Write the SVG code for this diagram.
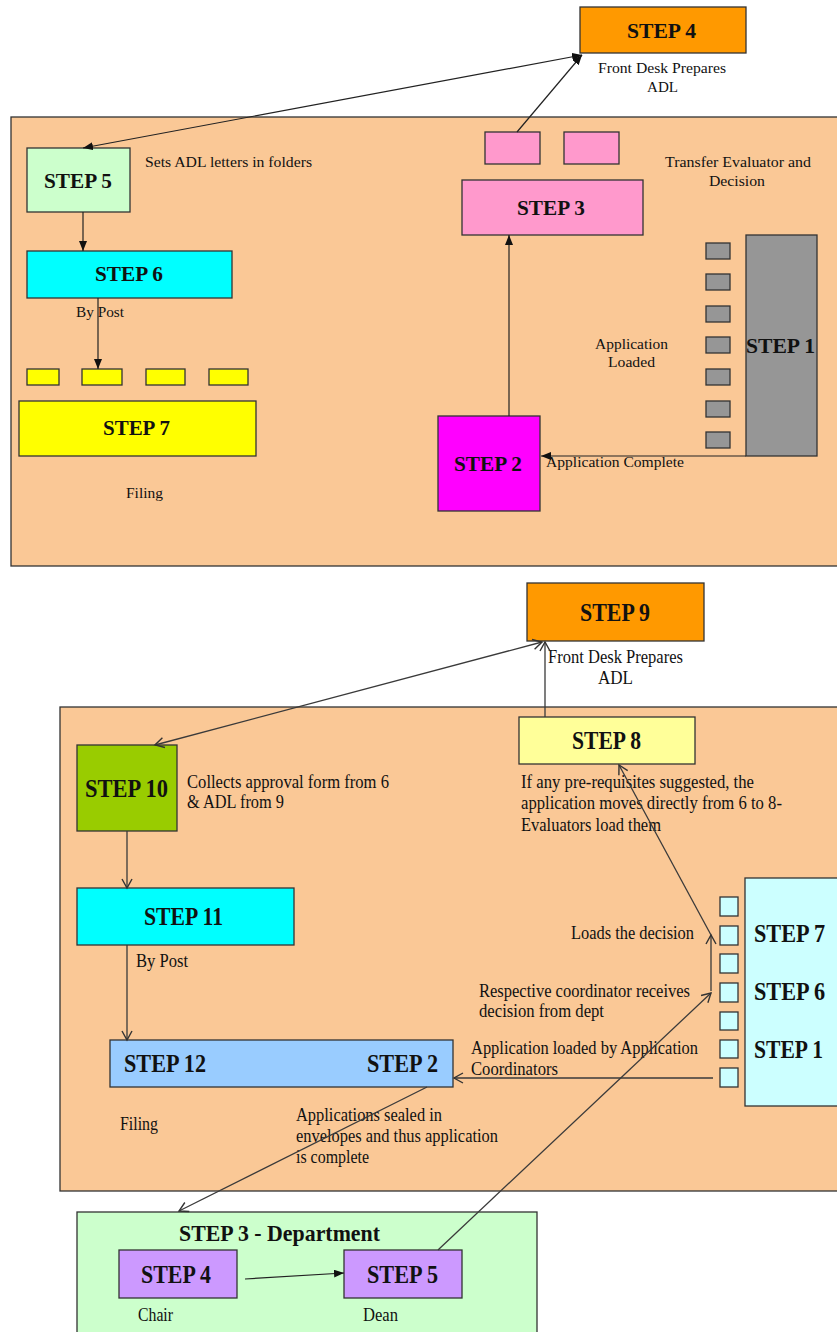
<svg xmlns="http://www.w3.org/2000/svg" width="837" height="1332" viewBox="0 0 837 1332">
<defs>
<style>
.bx{stroke:#333;stroke-width:1.3}
.t{font-family:"Liberation Serif","Times New Roman",serif;fill:#111}
.s{font-size:15.5px}
.b{font-size:21px;font-weight:bold}
.s2{font-size:18px}
.b2{font-size:25px;font-weight:bold}
.ln{stroke:#222;stroke-width:1.2;fill:none}
.ln2{stroke:#3a3a3a;stroke-width:1.3;fill:none}
</style>
<marker id="af" markerUnits="userSpaceOnUse" markerWidth="10" markerHeight="8" refX="10" refY="4" orient="auto-start-reverse"><path d="M0,0 L10,4 L0,8 z" fill="#111"/></marker>
<marker id="ao" markerUnits="userSpaceOnUse" markerWidth="12" markerHeight="12" refX="10" refY="6" orient="auto-start-reverse"><path d="M1,1 L10,6 L1,11" fill="none" stroke="#333" stroke-width="1.4"/></marker>
</defs>
<rect width="837" height="1332" fill="#fff"/>

<g id="panel-top"><rect class="bx" x="11" y="117" width="830" height="449" fill="#FAC896"/></g>
<g id="panel-bottom"><rect class="bx" x="60" y="707" width="781" height="484" fill="#FAC896"/></g>

<g id="top-step4"><rect class="bx" x="580" y="7" width="166" height="46" fill="#FF9900"/><text class="t b" x="627" y="38" textLength="69" lengthAdjust="spacingAndGlyphs">STEP 4</text></g>
<g id="top-step5"><rect class="bx" x="27" y="148" width="103" height="64" fill="#CCFFCC"/><text class="t b" x="44" y="188" textLength="68" lengthAdjust="spacingAndGlyphs">STEP 5</text></g>
<g id="top-pink1"><rect class="bx" x="485" y="132" width="55" height="32" fill="#FF99CC"/></g>
<g id="top-pink2"><rect class="bx" x="564" y="132" width="55" height="32" fill="#FF99CC"/></g>
<g id="top-step3"><rect class="bx" x="462" y="180" width="181" height="55" fill="#FF99CC"/><text class="t b" x="517" y="215" textLength="68" lengthAdjust="spacingAndGlyphs">STEP 3</text></g>
<g id="top-step6"><rect class="bx" x="27" y="251" width="205" height="47" fill="#00FFFF"/><text class="t b" x="95" y="281" textLength="68" lengthAdjust="spacingAndGlyphs">STEP 6</text></g>
<g id="top-step1"><rect class="bx" x="746" y="235" width="71" height="221" fill="#969696"/><text class="t b" x="746" y="353" textLength="69" lengthAdjust="spacingAndGlyphs">STEP 1</text></g>
<g id="top-graysq">
<rect class="bx" x="706" y="243" width="24" height="16" fill="#969696"/>
<rect class="bx" x="706" y="274" width="24" height="16" fill="#969696"/>
<rect class="bx" x="706" y="306" width="24" height="16" fill="#969696"/>
<rect class="bx" x="706" y="337" width="24" height="16" fill="#969696"/>
<rect class="bx" x="706" y="369" width="24" height="16" fill="#969696"/>
<rect class="bx" x="706" y="401" width="24" height="16" fill="#969696"/>
<rect class="bx" x="706" y="432" width="24" height="16" fill="#969696"/>
</g>
<g id="top-yellowsq">
<rect class="bx" x="27" y="369" width="32" height="16" fill="#FFFF00"/>
<rect class="bx" x="82" y="369" width="40" height="16" fill="#FFFF00"/>
<rect class="bx" x="146" y="369" width="39" height="16" fill="#FFFF00"/>
<rect class="bx" x="209" y="369" width="39" height="16" fill="#FFFF00"/>
</g>
<g id="top-step7"><rect class="bx" x="19" y="401" width="237" height="55" fill="#FFFF00"/><text class="t b" x="103" y="435" textLength="67" lengthAdjust="spacingAndGlyphs">STEP 7</text></g>
<g id="top-step2"><rect class="bx" x="438" y="416" width="102" height="95" fill="#FF00FF"/><text class="t b" x="454" y="471" textLength="68" lengthAdjust="spacingAndGlyphs">STEP 2</text></g>

<g id="top-labels">
<text class="t s" x="598" y="73" textLength="128" lengthAdjust="spacingAndGlyphs">Front Desk Prepares</text>
<text class="t s" x="647" y="92" textLength="31" lengthAdjust="spacingAndGlyphs">ADL</text>
<text class="t s" x="145" y="167" textLength="167" lengthAdjust="spacingAndGlyphs">Sets ADL letters in folders</text>
<text class="t s" x="665" y="167" textLength="146" lengthAdjust="spacingAndGlyphs">Transfer Evaluator and</text>
<text class="t s" x="709" y="186" textLength="56" lengthAdjust="spacingAndGlyphs">Decision</text>
<text class="t s" x="76" y="317" textLength="48" lengthAdjust="spacingAndGlyphs">By Post</text>
<text class="t s" x="595" y="349" textLength="73" lengthAdjust="spacingAndGlyphs">Application</text>
<text class="t s" x="608" y="367" textLength="47" lengthAdjust="spacingAndGlyphs">Loaded</text>
<text class="t s" x="546" y="467" textLength="138" lengthAdjust="spacingAndGlyphs">Application Complete</text>
<text class="t s" x="126" y="498" textLength="37" lengthAdjust="spacingAndGlyphs">Filing</text>
</g>

<g id="bot-step9"><rect class="bx" x="527" y="583" width="177" height="58" fill="#FF9900"/><text class="t b2" x="580" y="621" textLength="70" lengthAdjust="spacingAndGlyphs">STEP 9</text></g>
<g id="bot-step8"><rect class="bx" x="519" y="717" width="176" height="47" fill="#FFFF99"/><text class="t b2" x="572" y="749" textLength="69" lengthAdjust="spacingAndGlyphs">STEP 8</text></g>
<g id="bot-step10"><rect class="bx" x="77" y="745" width="100" height="86" fill="#99CC00"/><text class="t b2" x="85" y="797" textLength="83" lengthAdjust="spacingAndGlyphs">STEP 10</text></g>
<g id="bot-step11"><rect class="bx" x="77" y="888" width="217" height="57" fill="#00FFFF"/><text class="t b2" x="144" y="925" textLength="79" lengthAdjust="spacingAndGlyphs">STEP 11</text></g>
<g id="bot-step12"><rect class="bx" x="110" y="1040" width="343" height="47" fill="#99CCFF"/><text class="t b2" x="124" y="1072" textLength="82" lengthAdjust="spacingAndGlyphs">STEP 12</text><text class="t b2" x="367" y="1072" textLength="71" lengthAdjust="spacingAndGlyphs">STEP 2</text></g>
<g id="bot-step176"><rect class="bx" x="745" y="878" width="96" height="228" fill="#CCFFFF"/>
<text class="t b2" x="754" y="942" textLength="71" lengthAdjust="spacingAndGlyphs">STEP 7</text>
<text class="t b2" x="754" y="1000" textLength="71" lengthAdjust="spacingAndGlyphs">STEP 6</text>
<text class="t b2" x="754" y="1058" textLength="69" lengthAdjust="spacingAndGlyphs">STEP 1</text></g>
<g id="bot-cyansq">
<rect class="bx" x="720" y="897" width="18" height="19" fill="#CCFFFF"/>
<rect class="bx" x="720" y="926" width="18" height="19" fill="#CCFFFF"/>
<rect class="bx" x="720" y="954" width="18" height="19" fill="#CCFFFF"/>
<rect class="bx" x="720" y="983" width="18" height="19" fill="#CCFFFF"/>
<rect class="bx" x="720" y="1012" width="18" height="18" fill="#CCFFFF"/>
<rect class="bx" x="720" y="1040" width="18" height="18" fill="#CCFFFF"/>
<rect class="bx" x="720" y="1068" width="18" height="19" fill="#CCFFFF"/>
</g>
<g id="bot-dept"><rect class="bx" x="77" y="1212" width="460" height="130" fill="#CCFFCC"/><text class="t" x="179" y="1241" style="font-size:23px;font-weight:bold" textLength="201" lengthAdjust="spacingAndGlyphs">STEP 3 - Department</text></g>
<g id="bot-step4"><rect class="bx" x="119" y="1250" width="118" height="48" fill="#CC99FF"/><text class="t b2" x="141" y="1283" textLength="70" lengthAdjust="spacingAndGlyphs">STEP 4</text></g>
<g id="bot-step5"><rect class="bx" x="344" y="1250" width="118" height="48" fill="#CC99FF"/><text class="t b2" x="367" y="1283" textLength="71" lengthAdjust="spacingAndGlyphs">STEP 5</text></g>

<g id="bot-labels">
<text class="t s2" x="548" y="663" textLength="135" lengthAdjust="spacingAndGlyphs">Front Desk Prepares</text>
<text class="t s2" x="598" y="684" textLength="35" lengthAdjust="spacingAndGlyphs">ADL</text>
<text class="t s2" x="187" y="788" textLength="202" lengthAdjust="spacingAndGlyphs">Collects approval form from 6</text>
<text class="t s2" x="187" y="808" textLength="97" lengthAdjust="spacingAndGlyphs">&amp; ADL from 9</text>
<text class="t s2" x="521" y="788" textLength="233" lengthAdjust="spacingAndGlyphs">If any pre-requisites  suggested, the</text>
<text class="t s2" x="521" y="809" textLength="261" lengthAdjust="spacingAndGlyphs">application moves directly from 6 to 8-</text>
<text class="t s2" x="521" y="831" textLength="140" lengthAdjust="spacingAndGlyphs">Evaluators load them</text>
<text class="t s2" x="571" y="939" textLength="123" lengthAdjust="spacingAndGlyphs">Loads the decision</text>
<text class="t s2" x="479" y="997" textLength="211" lengthAdjust="spacingAndGlyphs">Respective coordinator receives</text>
<text class="t s2" x="479" y="1017" textLength="125" lengthAdjust="spacingAndGlyphs">decision from dept</text>
<text class="t s2" x="471" y="1054" textLength="227" lengthAdjust="spacingAndGlyphs">Application loaded by Application</text>
<text class="t s2" x="471" y="1075" textLength="87" lengthAdjust="spacingAndGlyphs">Coordinators</text>
<text class="t s2" x="136" y="967" textLength="52" lengthAdjust="spacingAndGlyphs">By Post</text>
<text class="t s2" x="120" y="1130" textLength="38" lengthAdjust="spacingAndGlyphs">Filing</text>
<text class="t s2" x="296" y="1121" textLength="146" lengthAdjust="spacingAndGlyphs">Applications sealed in</text>
<text class="t s2" x="296" y="1142" textLength="202" lengthAdjust="spacingAndGlyphs">envelopes and thus application</text>
<text class="t s2" x="296" y="1163" textLength="73" lengthAdjust="spacingAndGlyphs">is complete</text>
<text class="t s2" x="138" y="1321" textLength="35" lengthAdjust="spacingAndGlyphs">Chair</text>
<text class="t s2" x="363" y="1321" textLength="35" lengthAdjust="spacingAndGlyphs">Dean</text>
</g>

<g id="connectors">
<line class="ln" x1="582" y1="55" x2="83" y2="148" marker-start="url(#af)" marker-end="url(#af)"/>
<line class="ln" x1="517" y1="132" x2="582" y2="55" marker-end="url(#af)"/>
<line class="ln" x1="83" y1="212" x2="83" y2="251" marker-end="url(#af)"/>
<line class="ln" x1="98" y1="298" x2="98" y2="369" marker-end="url(#af)"/>
<line class="ln" x1="509" y1="416" x2="509" y2="235" marker-end="url(#af)"/>
<line class="ln" x1="746" y1="456" x2="541" y2="456" marker-end="url(#af)"/>

<line class="ln2" x1="545" y1="717" x2="545" y2="642" marker-end="url(#ao)"/>
<line class="ln2" x1="542" y1="642" x2="155" y2="745" marker-start="url(#ao)" marker-end="url(#ao)"/>
<line class="ln2" x1="127" y1="831" x2="127" y2="888" marker-end="url(#ao)"/>
<line class="ln2" x1="127" y1="945" x2="127" y2="1040" marker-end="url(#ao)"/>
<line class="ln2" x1="713" y1="1078" x2="454" y2="1078" marker-end="url(#ao)"/>
<line class="ln2" x1="427" y1="1087" x2="179" y2="1211" marker-end="url(#ao)"/>
<line class="ln" x1="245" y1="1279" x2="344" y2="1273" marker-end="url(#af)"/>
<line class="ln2" x1="438" y1="1250" x2="711" y2="993" marker-end="url(#ao)"/>
<line class="ln2" x1="711" y1="991" x2="711" y2="935" marker-end="url(#ao)"/>
<line class="ln2" x1="711" y1="935" x2="619" y2="765" marker-end="url(#ao)"/>
</g>
</svg>
